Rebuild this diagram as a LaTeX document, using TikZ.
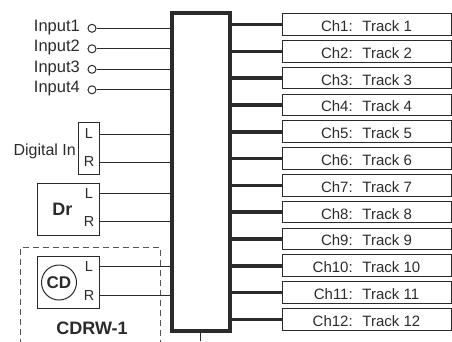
\documentclass[tikz,border=0pt]{standalone}
\usepackage{fontspec}
\setmainfont{Liberation Sans}
\definecolor{ink}{HTML}{2B2B2B}
\definecolor{dashink}{HTML}{555555}
\begin{document}
\begin{tikzpicture}[x=1pt,y=-1pt,
  every node/.style={text=ink, inner sep=0pt},
  lbl/.style={font=\fontsize{15}{15}\selectfont},
  inlbl/.style={font=\fontsize{16.5}{16.5}\selectfont},
  lrlbl/.style={font=\fontsize{14.5}{14.5}\selectfont},
  boldlbl/.style={font=\fontsize{18}{18}\selectfont\bfseries},
  thinline/.style={draw=ink, line width=1pt},
  feed/.style={draw=ink, line width=3.6pt},
  jack/.style={circle, draw=ink, line width=1pt, minimum size=8pt, inner sep=0pt},
  srcbox/.style={draw=ink, line width=1pt, minimum width=62pt, minimum height=52pt},
  chbox/.style={draw=ink, line width=1pt, minimum width=169pt, minimum height=21.5pt}]
\useasboundingbox (0,0) rectangle (452,341);

% mixer
\node[draw=ink, line width=4pt, minimum width=58pt, minimum height=318pt] (mix) at (200.6,171.7) {};
\coordinate (tail) at (200.6,341);
\draw[thinline] (mix.south) -- (tail);

% analog inputs
\foreach \i/\y in {1/28.3,2/48.8,3/69.3,4/89.8}{
  \node[jack] (in\i) at (92,\y) {};
  \node[inlbl, anchor=base east] (tin\i) at (80,\y+2.7) {Input\i};
  \draw[thinline] (in\i.east) -- (in\i.east -| mix.west);
}

% digital in
\node[draw=ink, line width=1pt, minimum width=21pt, minimum height=52pt] (dig) at (88.5,148) {};
\node[font=\fontsize{16}{16}\selectfont, anchor=base east] (tdig) at (76,155) {Digital In};
\node[lrlbl] (digL) at (89,133.5) {L};
\node[lrlbl] (digR) at (89,162) {R};
\coordinate (digLy) at (0,134);
\coordinate (digRy) at (0,162);
\draw[thinline] (dig.east |- digLy) -- (digLy -| mix.west);
\draw[thinline] (dig.east |- digRy) -- (digRy -| mix.west);

% Dr
\node[srcbox] (dr) at (68,209) {};
\node[boldlbl] (tdr) at (62.5,209) {Dr};
\node[lrlbl] (drL) at (89,194) {L};
\node[lrlbl] (drR) at (89,222) {R};
\coordinate (drLy) at (0,193.3);
\coordinate (drRy) at (0,221);
\draw[thinline] (dr.east |- drLy) -- (drLy -| mix.west);
\draw[thinline] (dr.east |- drRy) -- (drRy -| mix.west);

% CDRW-1
\draw[dashink, line width=1pt, dash pattern=on 6pt off 4pt] (20,345) -- (20,247.7) -- (160,247.7) -- (160,345);
\node[srcbox] (cd) at (68,282) {};
\node[circle, draw=ink, line width=1pt, minimum size=35pt, font=\fontsize{17}{17}\selectfont\bfseries] (disc) at (59,282.5) {CD};
\node[lrlbl] (cdL) at (89,267) {L};
\node[lrlbl] (cdR) at (89,295.5) {R};
\coordinate (cdLy) at (0,266.7);
\coordinate (cdRy) at (0,295);
\draw[thinline] (cd.east |- cdLy) -- (cdLy -| mix.west);
\draw[thinline] (cd.east |- cdRy) -- (cdRy -| mix.west);
\node[boldlbl] (cdrw) at (92,328) {CDRW-1};

% channels
\foreach \i in {1,...,12}{
  \pgfmathsetmacro{\yy}{24.5+(\i-1)*26.8}
  \node[chbox] (ch\i) at (366.5,\yy) {};
  \node[lbl, anchor=base, yshift=-7pt] (tch\i) at (ch\i.center) {Ch\i:~ Track \i};
  \draw[feed] (ch\i.west -| mix.east) -- (ch\i.west);
}
\end{tikzpicture}
\end{document}
